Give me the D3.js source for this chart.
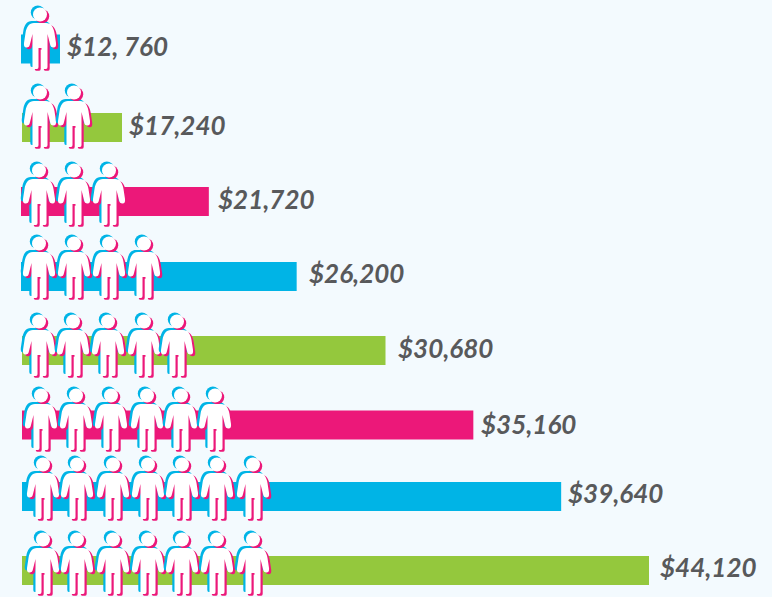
<!DOCTYPE html>
<html><head><meta charset="utf-8">
<style>html,body{margin:0;padding:0;background:#f3fafe;overflow:hidden}svg{display:block}</style>
<script src="https://cdn.jsdelivr.net/npm/d3@7"></script></head>
<body><svg id="c" width="772" height="597"></svg>
<script>
const values=[12760,17240,21720,26200,30680,35160,39640,44120];
const valueLabels=["$12, 760","$17,240","$21,720","$26,200","$30,680","$35,160","$39,640","$44,120"];
const peopleCounts=[1,2,3,4,5,6,7,7];
const barColors=["#00b4e6","#94c83d","#ec1879","#00b4e6","#94c83d","#ec1879","#00b4e6","#94c83d"];

// layout
const rowCenters=[49,127.5,201.5,276.5,350.5,425,496.5,570.5];
const barLeft=[21,22,21,21,22,22,22,22];
const labelX=[67,129,218,309,398,481,568,660];
const labelY=[56,135,209,283,358,434,503,577];
const iconTop=[7,85,163,236,314,388,457,532];
const iconX=[[40],[40,74],[39,74,109],[39,74,109,144],[39,73,108,144,177],[41,76,111,147,181,215],[43,77,113,148,182,217,253],[43,77,113,148,182,217,253]];

const svg=d3.select("#c");
const len=d3.scaleLinear().domain([12760,17240,44120]).range([39,100,627]);
const idx=values.map((_,i)=>i);
const y=d3.scaleOrdinal().domain(idx).range(rowCenters);
const barH=29;

svg.append("g").selectAll("rect").data(values).join("rect")
  .attr("x",(d,i)=>barLeft[i]).attr("y",(d,i)=>y(i)-barH/2)
  .attr("width",d=>len(d)).attr("height",barH)
  .attr("fill",(d,i)=>barColors[i]);

const head=d3.path(); head.arc(0,7.5,7,0,2*Math.PI);
const body="M-6,16H6C11,16 13.5,20 14.5,26L16,36Q16.5,40.5 13.5,40.5Q10.5,40.5 10,37L7.5,27V60Q7.5,62 6,62H3Q1.5,62 1.5,60V41H-1.5V60Q-1.5,62 -3,62H-6Q-7.5,62 -7.5,60V27L-10,37Q-10.5,40.5 -13.5,40.5Q-16.5,40.5 -16,36L-14.5,26C-13.5,20 -11,16 -6,16Z";
const layers=[{dx:-2.2,dy:-2,c:"#00b4e6"},{dx:2.2,dy:1.8,c:"#ec1879"},{dx:0,dy:0,c:"#ffffff"}];

const people=svg.append("g").selectAll("g").data(idx).join("g");
people.each(function(r){
  const g=d3.select(this);
  d3.range(peopleCounts[r]).forEach(k=>{
    const p=g.append("g").attr("transform",`translate(${iconX[r][k]},${iconTop[r]})`);
    layers.forEach((l,n)=>{
      const q=p.append("g").attr("transform",`translate(${l.dx},${l.dy})`).attr("fill",l.c);
      q.append("path").attr("d",head.toString());
      q.append("path").attr("d",body);
      // closes the leg gap so the cyan copy does not show between the legs
      if(n===0) p.append("rect").attr("x",-2).attr("y",38).attr("width",6).attr("height",25).attr("fill","#fff");
    });
  });
});

svg.append("g").selectAll("text").data(valueLabels).join("text")
  .attr("x",(d,i)=>labelX[i]).attr("y",(d,i)=>labelY[i])
  .attr("font-family","Lato,sans-serif").attr("font-style","italic").attr("font-weight",700)
  .attr("font-size",26).attr("fill","#58595b").text(d=>d);
</script></body></html>
